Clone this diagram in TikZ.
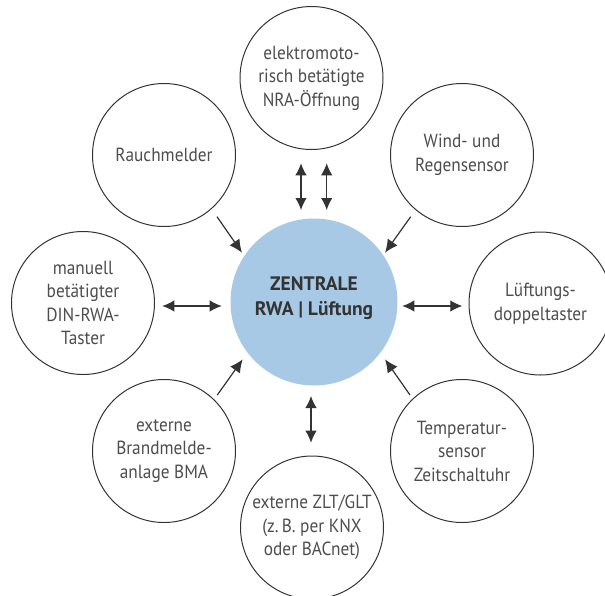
\documentclass[tikz,border=0pt]{standalone}
\usepackage{fontspec}
\setmainfont{PT Sans}[FakeStretch=0.91]
\newfontfamily\centrefont{PT Sans}
\usetikzlibrary{arrows.meta}
\definecolor{zblue}{HTML}{A8C9E5}
\definecolor{txtgray}{HTML}{4D4D4D}
\definecolor{linegray}{HTML}{333333}
\begin{document}
\begin{tikzpicture}[x=1pt,y=-1pt,
  outer/.style={circle,draw=linegray,line width=1pt,minimum size=143pt,inner sep=0pt,
    text=txtgray,align=center,font=\fontsize{19}{23.5}\selectfont},
  centre/.style={circle,fill=zblue,minimum size=167pt,inner sep=0pt},
  centretext/.style={align=center,text=linegray,font=\centrefont\fontsize{19.5}{25.5}\selectfont\bfseries},
  conn/.style={draw=linegray,line width=1.2pt,-{Latex[length=13pt,width=12pt]}},
  biconn/.style={draw=linegray,line width=1.2pt,{Latex[length=12pt,width=11.5pt]}-{Latex[length=12pt,width=11.5pt]}}]
\useasboundingbox (0,0) rectangle (605,595);

\node[centre] (main) at (314,302) {};
\node[centretext] (maintext) at (314,298) {ZENTRALE\\RWA | Lüftung};

\node[outer] (nra) at (311.5,78) {elektromoto-\\risch betätigte\\NRA-Öffnung};
\node[outer] (rauch) at (164,155) {Rauchmelder};
\node[outer] (wind) at (462,155) {Wind- und\\Regensensor};
\node[outer] (manuell) at (83,303) {manuell\\betätigter\\DIN-RWA-\\Taster};
\node[outer] (lueft) at (540.5,303.5) {Lüftungs-\\doppeltaster};
\node[outer] (bma) at (164,451) {externe\\Brandmelde-\\anlage BMA};
\node[outer] (temp) at (462,451) {Temperatur-\\sensor\\Zeitschaltuhr};
\node[outer] (zlt) at (312,527.5) {externe ZLT/GLT\\(z.\,B. per KNX\\oder BACnet)};

% arrow end points
\coordinate (rauchS) at (217,216.7);   \coordinate (rauchE) at (242,252.7);
\coordinate (windS) at (410.7,216.7);  \coordinate (windE) at (385,252.7);
\coordinate (bmaS) at (217.3,395);     \coordinate (bmaE) at (242.7,359.3);
\coordinate (tempS) at (410,395);      \coordinate (tempE) at (385,359.3);
\coordinate (manS) at (162.3,306);     \coordinate (manE) at (221.7,306);
\coordinate (luftS) at (462.3,306);    \coordinate (luftE) at (402.3,306);
\coordinate (nraAS) at (301,163.3);    \coordinate (nraAE) at (301,210);
\coordinate (nraBS) at (326.7,163.3);  \coordinate (nraBE) at (326.7,210);
\coordinate (zltS) at (311,442.7);     \coordinate (zltE) at (311,396);

\draw[conn] (rauchS) -- (rauchE);
\draw[conn] (windS) -- (windE);
\draw[conn] (bmaS) -- (bmaE);
\draw[conn] (tempS) -- (tempE);
\draw[biconn] (manS) -- (manE);
\draw[biconn] (luftS) -- (luftE);
\draw[biconn] (nraAS) -- (nraAE);
\draw[biconn] (nraBS) -- (nraBE);
\draw[biconn] (zltS) -- (zltE);
\end{tikzpicture}
\end{document}
